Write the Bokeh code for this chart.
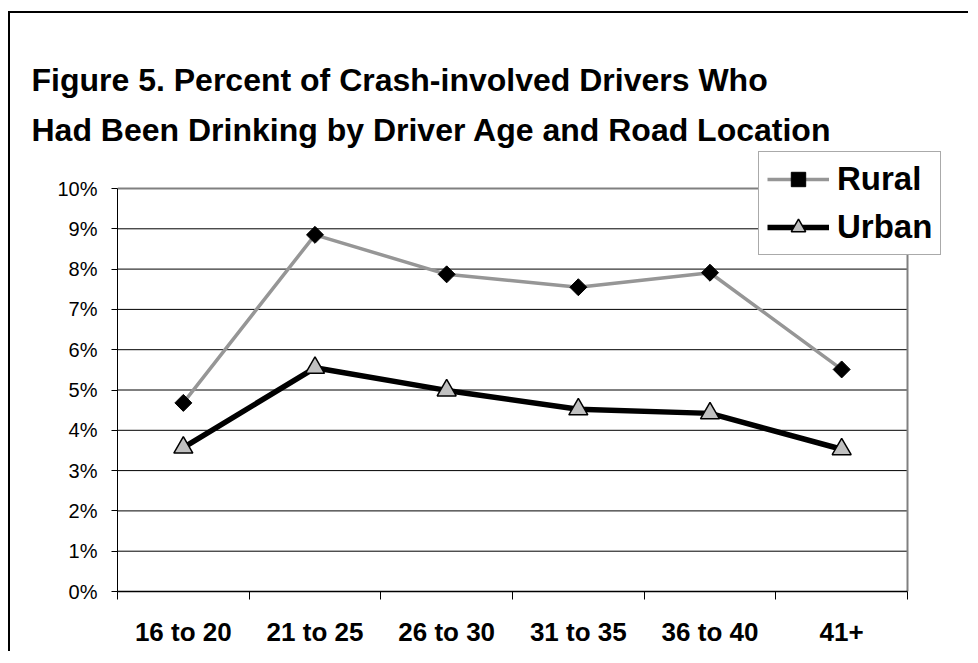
import math
from bokeh.plotting import figure
from bokeh.models import (Range1d, LinearAxis, FixedTicker, NumeralTickFormatter, Title,
                          Legend, LegendItem)
from bokeh.embed import file_html
from bokeh.resources import INLINE

categories = ["16 to 20", "21 to 25", "26 to 30", "31 to 35", "36 to 40", "41+"]
rural = [0.0468, 0.0885, 0.0787, 0.0755, 0.0791, 0.0551]
urban = [0.0357, 0.0555, 0.0499, 0.0452, 0.0442, 0.0353]
y_ticks = [0.0, 0.01, 0.02, 0.03, 0.04, 0.05, 0.06, 0.07, 0.08, 0.09, 0.10]
title_lines = ["Figure 5. Percent of Crash-involved Drivers Who",
               "Had Been Drinking by Driver Age and Road Location"]

FONT = "Liberation Sans"

n = len(categories)
xpos = [i + 0.5 for i in range(n)]          # category centres
edges = [i for i in range(n + 1)]           # category boundaries
y_top = y_ticks[-1]

# frame extends a little beyond the plot area so the legend can overhang it
PLOT_W, FRAME_W = 790, 831
PLOT_H, FRAME_H = 403, 443

p = figure(width=960, height=640,
           x_range=Range1d(0, n * FRAME_W / PLOT_W), y_range=Range1d(0, y_top * FRAME_H / PLOT_H),
           output_backend="svg", toolbar_location=None, x_axis_location=None,
           min_border_left=107, min_border_right=22, min_border_top=135, min_border_bottom=62)
p.styles = {"border-left": "2px solid black", "border-top": "2px solid black",
            "margin-top": "11px", "margin-left": "8px"}
p.background_fill_color = "white"
p.border_fill_color = "white"
p.outline_line_color = None

title = Title(text="\n".join(title_lines), align="left", offset=-86, standoff=0,
              text_font=FONT, text_font_size="32px", text_font_style="bold", text_color="black",
              text_line_height=1.4)
p.add_layout(title, "above")

# y axis
p.yaxis.ticker = FixedTicker(ticks=y_ticks)
p.yaxis.bounds = (0, y_top)
p.yaxis.formatter = NumeralTickFormatter(format="0%")
p.yaxis.major_label_text_font = FONT
p.yaxis.major_label_text_font_size = "20px"
p.yaxis.major_label_text_color = "black"
p.yaxis.major_tick_out = 6
p.yaxis.major_tick_in = 0
p.yaxis.minor_tick_out = 0
p.yaxis.minor_tick_in = 0
p.yaxis.axis_line_color = "black"
p.yaxis.major_tick_line_color = "black"
p.yaxis.major_label_standoff = 14
p.ygrid.visible = False
p.xgrid.visible = False

# horizontal gridlines across the plot area, and the grey plot-area border
grid_y = y_ticks[1:-1]
p.segment(x0=[0] * len(grid_y), x1=[n] * len(grid_y), y0=grid_y, y1=grid_y,
          line_color="black", line_width=1)
p.line(x=[0, n, n], y=[y_top, y_top, 0], line_color="#808080", line_width=2)

# x axis: boundary ticks (no labels) + category labels
tick_axis = LinearAxis(ticker=FixedTicker(ticks=edges), bounds=(0, n),
                       major_label_overrides={e: "" for e in edges},
                       major_label_text_font_size="1px", major_label_standoff=0,
                       major_tick_out=8, major_tick_in=0, minor_tick_out=0, minor_tick_in=0,
                       axis_line_color="black", axis_line_width=1.5, major_tick_line_color="black")
p.add_layout(tick_axis, "below")
label_axis = LinearAxis(ticker=FixedTicker(ticks=xpos),
                        major_label_overrides={x: c for x, c in zip(xpos, categories)},
                        major_tick_out=0, major_tick_in=0, minor_tick_out=0, minor_tick_in=0,
                        axis_line_color=None, major_tick_line_color=None,
                        major_label_text_font=FONT, major_label_text_font_size="26px",
                        major_label_text_font_style="bold", major_label_text_color="black",
                        major_label_standoff=17)
p.add_layout(label_axis, "below")

# series
r_line = p.line(x=xpos, y=rural, line_color="#969696", line_width=3.5)
r_pts = p.scatter(x=xpos, y=rural, marker="square", angle=math.pi / 4, size=12,
                  fill_color="black", line_color="black")
u_line = p.line(x=xpos, y=urban, line_color="black", line_width=5.5)
u_pts = p.scatter(x=xpos, y=urban, marker="triangle", size=19,
                  fill_color="#C0C0C0", line_color="black", line_width=1.5)

legend = Legend(items=[LegendItem(label="Rural", renderers=[r_line, r_pts]),
                       LegendItem(label="Urban", renderers=[u_line, u_pts])],
                location=(641, 336), orientation="vertical",
                label_text_font=FONT, label_text_font_size="33px", label_text_font_style="bold",
                label_text_color="black", glyph_width=62, glyph_height=36, label_height=36,
                label_standoff=8, padding=8, spacing=10, margin=0,
                border_line_color="#555555", border_line_width=1.5,
                background_fill_color="white", background_fill_alpha=1.0)
p.add_layout(legend)

open("out.html", "w").write(file_html(p, INLINE))
